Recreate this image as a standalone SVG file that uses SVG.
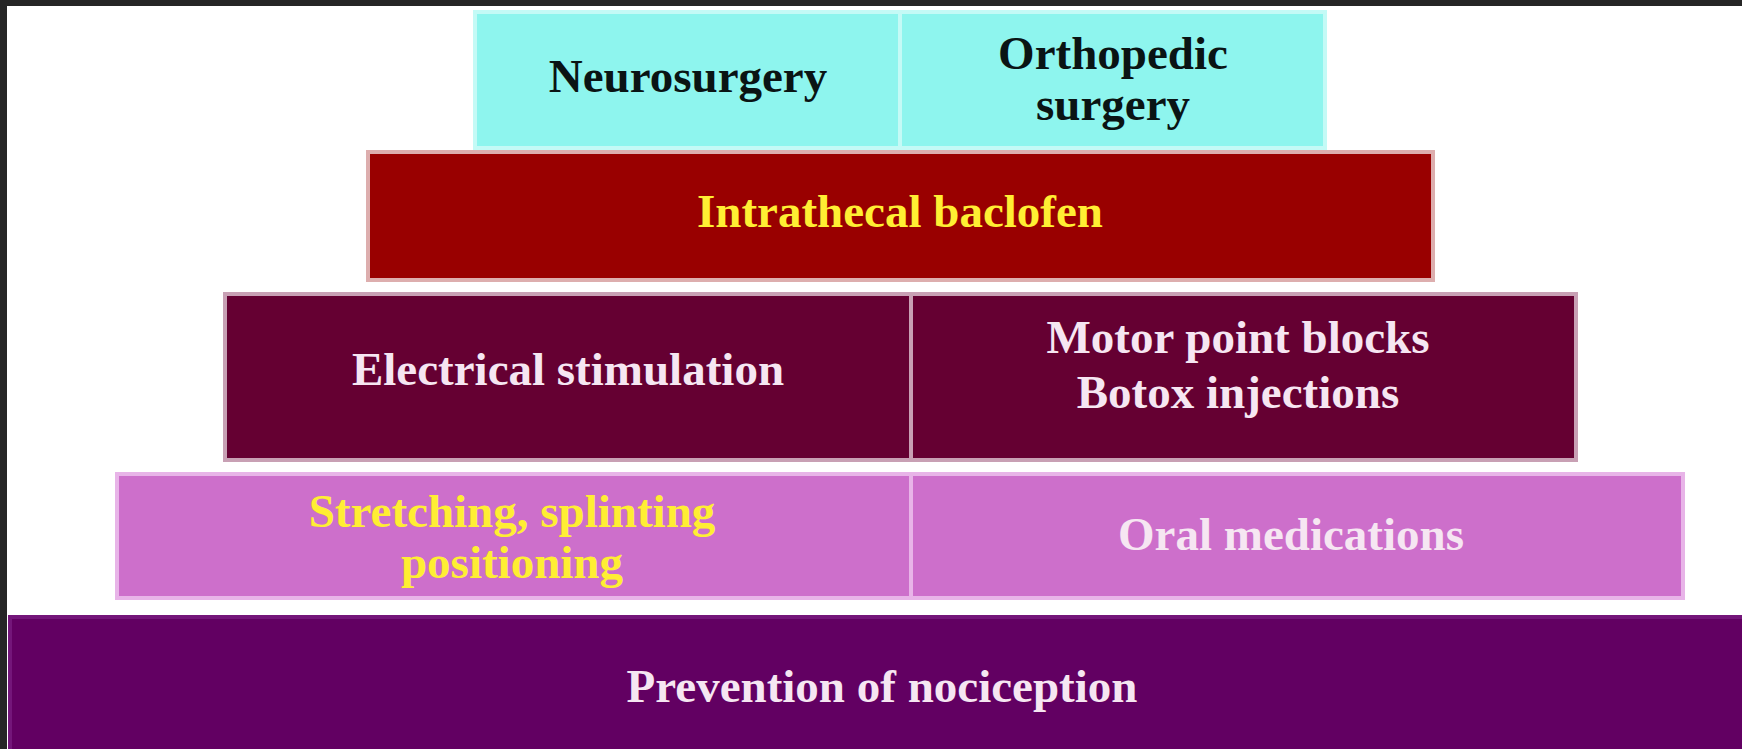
<svg xmlns="http://www.w3.org/2000/svg" width="1742" height="749" viewBox="0 0 1742 749">
<style>
  .t { font-family: "Liberation Serif", "Times New Roman", serif; font-weight: bold; font-size: 47px; text-anchor: middle; }
  .dark { fill: #0a1414; }
  .yel { fill: #FFEE33; }
  .wht { fill: #F6E6F2; }
  .cyan { fill: #8EF5EE; stroke: #C4FAF6; stroke-width: 4; }
  .red { fill: #990000; stroke: #DDAEAE; stroke-width: 4; }
  .mar { fill: #650032; stroke: #C8A0B4; stroke-width: 4; }
  .pink { fill: #CD6FCB; stroke: #E8B4E8; stroke-width: 4; }
  .purp { fill: #620062; stroke: #74167A; stroke-width: 4; }
</style>
<rect x="0" y="0" width="1742" height="749" fill="#262626"/>
<rect x="7" y="6" width="1735" height="743" fill="#FFFFFF"/>
<g id="connectors"/>
<g id="neurosurgery">
  <rect class="cyan" x="475" y="12" width="425" height="136"/>
  <text class="t dark" x="688" y="92">Neurosurgery</text>
</g>
<g id="orthopedic-surgery">
  <rect class="cyan" x="900" y="12" width="425" height="136"/>
  <text class="t dark" x="1113" y="69">Orthopedic</text>
  <text class="t dark" x="1113" y="120">surgery</text>
</g>
<g id="intrathecal-baclofen">
  <rect class="red" x="368" y="152" width="1065" height="128"/>
  <text class="t yel" x="900" y="227">Intrathecal baclofen</text>
</g>
<g id="electrical-stimulation">
  <rect class="mar" x="225" y="294" width="686" height="166"/>
  <text class="t wht" x="568" y="385">Electrical stimulation</text>
</g>
<g id="motor-point-blocks">
  <rect class="mar" x="911" y="294" width="665" height="166"/>
  <text class="t wht" x="1238" y="353">Motor point blocks</text>
  <text class="t wht" x="1238" y="408">Botox injections</text>
</g>
<g id="stretching">
  <rect class="pink" x="117" y="474" width="794" height="124"/>
  <text class="t yel" x="512" y="527">Stretching, splinting</text>
  <text class="t yel" x="512" y="578">positioning</text>
</g>
<g id="oral-medications">
  <rect class="pink" x="911" y="474" width="772" height="124"/>
  <text class="t wht" x="1291" y="550">Oral medications</text>
</g>
<g id="prevention">
  <rect class="purp" x="10" y="617" width="1740" height="140"/>
  <text class="t wht" x="882" y="702">Prevention of  nociception</text>
</g>
</svg>
